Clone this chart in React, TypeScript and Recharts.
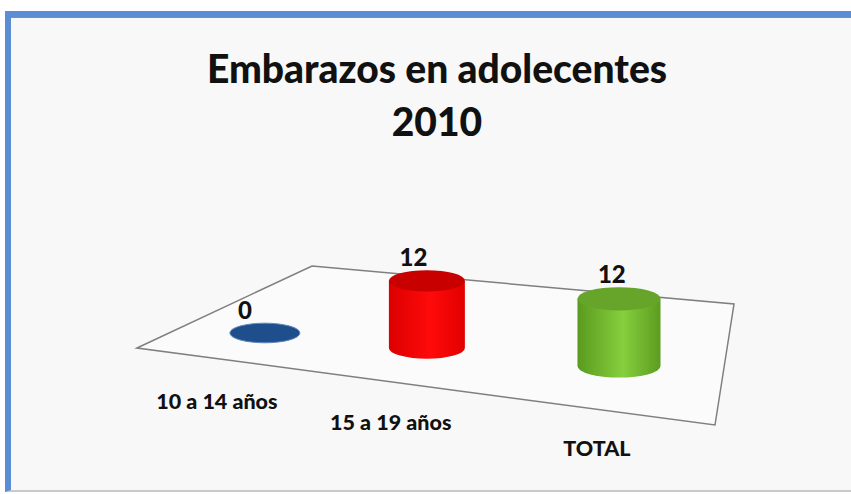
import { BarChart, Bar, XAxis, YAxis, LabelList } from 'recharts'

const categories = ['10 a 14 años', '15 a 19 años', 'TOTAL']
const values = [0, 12, 12]

const data = categories.map((name, i) => ({ name, value: values[i] }))

const W = 851
const H = 494
const MARGIN = { top: 270, right: 122, bottom: 110, left: 193 }
const PLOT_LEFT = MARGIN.left
const PLOT_W = W - MARGIN.left - MARGIN.right

// body / top colours per series
const BODY = [
  ['#1f4e8c', '#1f4e8c', '#1f4e8c'],
  ['#dc0000', '#ff0a0a', '#e20000'],
  ['#5a9a1e', '#86cf3d', '#5c9c20'],
]
const TOP = ['#1f4e8c', '#c80000', '#66a42a']

const FONT = 'Lato, "Open Sans", sans-serif'

// simple perspective: things on the left sit further back
const G = 0.774
const warp = (u: number) => (G * u) / (1 + (G - 1) * u)
const warpSlope = (u: number) => G / Math.pow(1 + (G - 1) * u, 2)

function geom(bandCenter: number) {
  const u = (bandCenter - PLOT_LEFT) / PLOT_W
  const sx = PLOT_LEFT + PLOT_W * warp(u)
  const by = 333 + 0.0932 * (sx - 265)
  const rx = 38.3 * Math.sqrt(warpSlope(u))
  const ry = rx * 0.28
  return { u, sx, by, rx, ry }
}

function Cylinder(props: any) {
  const { x, width, height, index } = props
  const { sx, by, rx, ry } = geom(x + width / 2)
  const h = Math.max(0, height || 0)
  const top = by - h
  const id = `cyl-${index}`
  const [c0, c1, c2] = BODY[index]
  return (
    <g>
      <defs>
        <linearGradient id={id} x1="0" y1="0" x2="1" y2="0">
          <stop offset="0%" stopColor={c0} />
          <stop offset="55%" stopColor={c1} />
          <stop offset="100%" stopColor={c2} />
        </linearGradient>
      </defs>
      {h > 0 && (
        <path
          d={`M${sx - rx},${top} L${sx - rx},${by} A${rx},${ry} 0 0 0 ${sx + rx},${by} L${sx + rx},${top} Z`}
          fill={`url(#${id})`}
        />
      )}
      <ellipse
        cx={sx}
        cy={top}
        rx={rx}
        ry={ry}
        fill={TOP[index]}
        stroke={h > 0 ? 'none' : '#5d86bb'}
        strokeWidth={1}
      />
    </g>
  )
}

function ValueLabel(props: any) {
  const { x, width, height, value, index } = props
  const { u, sx, by, ry } = geom(x + width / 2)
  const h = Math.max(0, height || 0)
  return (
    <text
      key={index}
      x={sx - 23 + 19 * u}
      y={by - h - ry - 4}
      textAnchor="middle"
      fontFamily={FONT}
      fontWeight={900}
      fontSize={24}
      fill="#111"
    >
      {value}
    </text>
  )
}

function CategoryTick(props: any) {
  const { x, payload } = props
  const u = (x - PLOT_LEFT) / PLOT_W
  const lx = 139.8 + 575.2 * warp(u)
  const ly = 409 + 0.1237 * (lx - 217)
  return (
    <text x={lx} y={ly} textAnchor="middle" fontFamily={FONT} fontWeight={900} fontSize={21.5} fill="#111">
      {payload.value}
    </text>
  )
}

export default function App() {
  return (
    <div style={{ position: 'relative', width: W, height: H, overflow: 'hidden', background: '#fff' }}>
      <style>{'body{margin:0}'}</style>
      <div
        style={{
          position: 'absolute',
          left: 5,
          top: 11,
          width: 900,
          height: 481,
          boxSizing: 'border-box',
          borderTop: '6px solid #5a8dd4',
          borderLeft: '6px solid #5a8dd4',
          borderBottom: '2px solid #c9c9c9',
          background: '#f8f8f8',
          boxShadow: 'inset 0 1px 0 #8c8c8c',
        }}
      />
      <div
        style={{
          position: 'absolute',
          left: 0,
          width: 874,
          top: 42,
          textAlign: 'center',
          fontFamily: FONT,
          fontWeight: 900,
          fontSize: 39,
          lineHeight: '53px',
          color: '#111',
        }}
      >
        Embarazos en adolecentes
        <br />
        2010
      </div>
      <svg width={W} height={H} style={{ position: 'absolute', left: 0, top: 0 }}>
        <polygon points="137,348 312,266 734,304 715,425" fill="#fbfbfb" stroke="#7f7f7f" strokeWidth={1.5} />
      </svg>
      <BarChart
        width={W}
        height={H}
        data={data}
        margin={MARGIN}
        style={{ position: 'absolute', left: 0, top: 0 }}
      >
        <XAxis dataKey="name" axisLine={false} tickLine={false} interval={0} tick={<CategoryTick />} />
        <YAxis hide domain={[0, 15]} />
        <Bar dataKey="value" shape={<Cylinder />} isAnimationActive={false}>
          <LabelList dataKey="value" content={<ValueLabel />} />
        </Bar>
      </BarChart>
    </div>
  )
}
